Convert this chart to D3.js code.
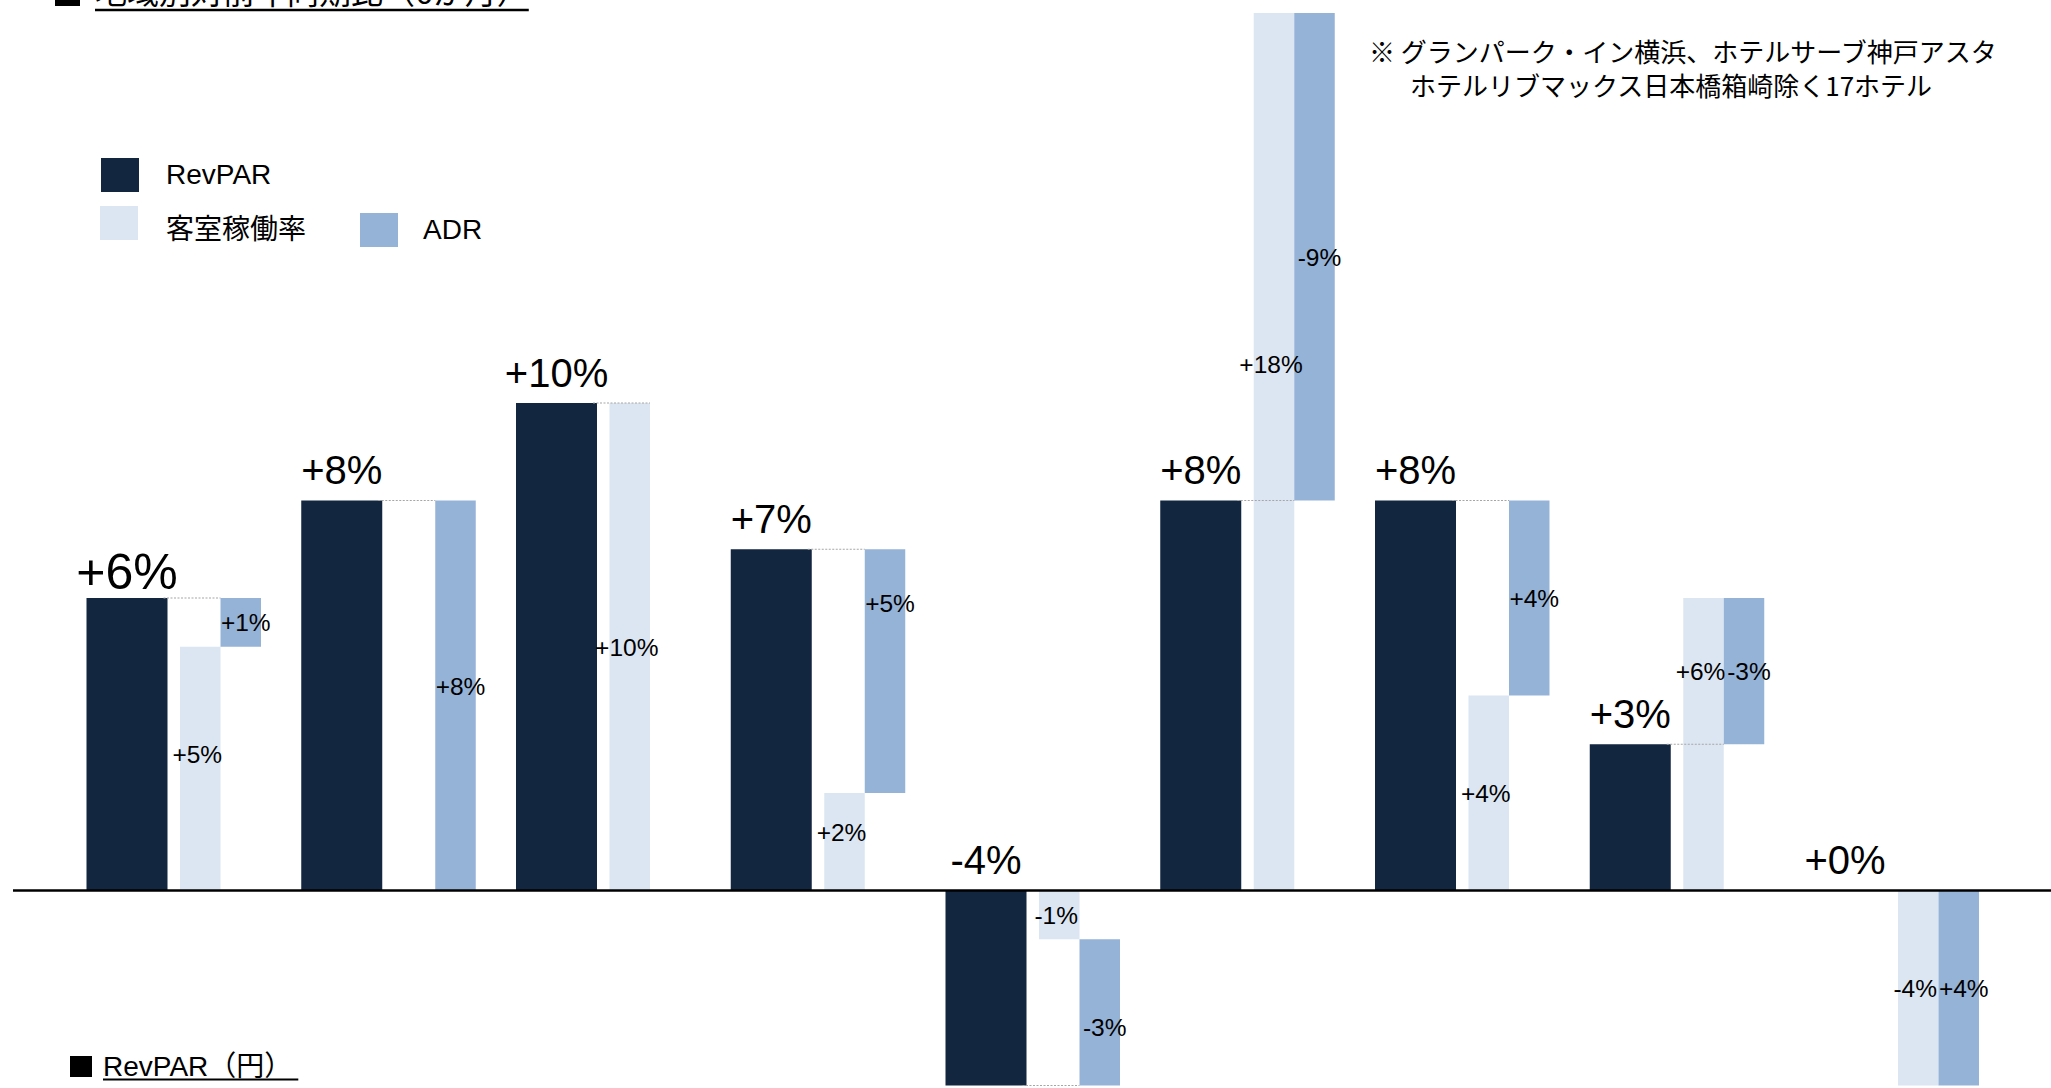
<!DOCTYPE html>
<html><head><meta charset="utf-8">
<script src="https://cdn.jsdelivr.net/npm/d3@7"></script>
<style>html,body{margin:0;padding:0;background:#fff;overflow:hidden}</style>
</head><body><svg id="c" width="2051" height="1088"></svg>
<script>
// ---- data ----
const categories = ["R1","R2","R3","R4","R5","R6","R7","R8","R9"];
const revpar    = [6, 8, 10, 7, -4, 8, 8, 3, 0];
const occupancy = [5, 0, 10, 2, -1, 18, 4, 6, -4];
const adr       = [1, 8, 0, 5, -3, -9, 4, -3, 4];
const seriesNames = ["RevPAR", "客室稼働率", "ADR"];
const titleText = "地域別対前年同期比（6か月）";
const noteLines = ["※ グランパーク・イン横浜、ホテルサーブ神戸アスタ", "ホテルリブマックス日本橋箱崎除く17ホテル"];
const nextTitle = "RevPAR（円）";

// ---- layout / style ----
// label nudges in value units, relative to the middle of each segment (as placed by hand in the original)
const occLabelNudge = [0.3, 0, 0, 0.2, 0, 1.8, 0, 1.5, 0];
const adrLabelNudge = [0, 0.2, 0, 1.4, -0.3, 0, 0, 0, 0];
const C_REV = "#12263f", C_OCC = "#dce6f2", C_ADR = "#95b3d7";
const LATIN = "'Liberation Sans', Arial, 'Noto Sans CJK JP', sans-serif";
const CJK = "'Noto Sans CJK JP', 'Liberation Sans', sans-serif";

const svg = d3.select("#c");
const W = 2051, H = 1088;

const step = 214.75, x0 = 86.5;
const x = d3.scaleBand().domain(categories).range([x0, x0 + step * categories.length]).paddingInner(0).paddingOuter(0);
const y = d3.scaleLinear().domain([0, 18]).range([890.5, 13]);

const revW = 81, subW = 40.5, occOff = 93.5, adrOff = occOff + subW;
const fmt = v => (v < 0 ? "-" : "+") + Math.abs(v) + "%";

const data = categories.map((c, i) => ({c, i, rev: revpar[i], occ: occupancy[i], adr: adr[i]}));

const g = svg.append("g");

// RevPAR bars
g.selectAll("rect.rev").data(data.filter(d => d.rev !== 0)).join("rect")
  .attr("class", "rev")
  .attr("x", d => x(d.c)).attr("width", revW)
  .attr("y", d => Math.min(y(d.rev), y(0)))
  .attr("height", d => Math.abs(y(d.rev) - y(0)))
  .attr("fill", C_REV);

// occupancy bars (0 -> occ)
g.selectAll("rect.occ").data(data.filter(d => d.occ !== 0)).join("rect")
  .attr("class", "occ")
  .attr("x", d => x(d.c) + occOff).attr("width", subW)
  .attr("y", d => Math.min(y(d.occ), y(0)))
  .attr("height", d => Math.abs(y(d.occ) - y(0)))
  .attr("fill", C_OCC);

// ADR bars (occ -> revpar)
g.selectAll("rect.adr").data(data.filter(d => d.adr !== 0)).join("rect")
  .attr("class", "adr")
  .attr("x", d => x(d.c) + adrOff).attr("width", subW)
  .attr("y", d => Math.min(y(d.occ), y(d.rev)))
  .attr("height", d => Math.abs(y(d.occ) - y(d.rev)))
  .attr("fill", C_ADR);

// connector dotted lines
g.selectAll("line.conn").data(data.filter(d => d.rev !== 0)).join("line")
  .attr("x1", d => x(d.c) + revW - 4).attr("x2", d => x(d.c) + adrOff)
  .attr("y1", d => y(d.rev)).attr("y2", d => y(d.rev))
  .attr("stroke", "#a6a6a6").attr("stroke-width", 1.2).attr("stroke-dasharray", "2,1.5");

// zero line
svg.append("line").attr("x1", 13).attr("x2", W).attr("y1", y(0)).attr("y2", y(0))
  .attr("stroke", "#000").attr("stroke-width", 2.5);

// big RevPAR labels
g.selectAll("text.revl").data(data).join("text")
  .attr("x", d => x(d.c) + revW / 2)
  .attr("y", d => {
    const fs = d.i === 0 ? 50 : 40;
    return y(Math.max(d.rev, 0)) - 45 + 0.716 * fs;
  })
  .attr("text-anchor", "middle")
  .attr("font-family", LATIN)
  .attr("font-size", d => d.i === 0 ? 50 : 40)
  .attr("fill", "#000")
  .text(d => fmt(d.rev));

// small labels
const small = [];
data.forEach(d => {
  if (d.occ !== 0) small.push({x: x(d.c) + occOff + subW / 2 - 3, yc: y(d.occ / 2 + occLabelNudge[d.i]), t: fmt(d.occ)});
  if (d.adr !== 0) small.push({x: x(d.c) + adrOff + subW / 2 + 5, yc: y((d.occ + d.rev) / 2 + adrLabelNudge[d.i]), t: fmt(d.adr)});
});
g.selectAll("text.sl").data(small).join("text")
  .attr("x", d => d.x).attr("y", d => d.yc + 9)
  .attr("text-anchor", "middle")
  .attr("font-family", LATIN).attr("font-size", 24.5).attr("fill", "#000")
  .text(d => d.t);

// legend
const leg = svg.append("g");
const legItems = [
  {n: seriesNames[0], c: C_REV, rx: 101, ry: 158, tx: 166, ty: 184},
  {n: seriesNames[1], c: C_OCC, rx: 100, ry: 206, tx: 166, ty: 239},
  {n: seriesNames[2], c: C_ADR, rx: 360, ry: 213, tx: 423, ty: 239}
];
legItems.forEach(it => {
  leg.append("rect").attr("x", it.rx).attr("y", it.ry).attr("width", 38).attr("height", 34).attr("fill", it.c);
  leg.append("text").attr("x", it.tx).attr("y", it.ty).attr("font-family", LATIN).attr("font-size", 28)
    .attr("fill", "#000").text(it.n);
});

// note
noteLines.forEach((t, i) => {
  svg.append("text").attr("x", i === 0 ? 1369 : 1410).attr("y", i === 0 ? 62 : 96)
    .attr("font-family", CJK).attr("font-size", 26).attr("fill", "#000").text(t);
});

// top (cut) title
svg.append("rect").attr("x", 55).attr("y", -19).attr("width", 25).attr("height", 25).attr("fill", "#000");
const tt = svg.append("text").attr("x", 95).attr("y", 4).attr("font-family", CJK).attr("font-size", 32)
  .attr("fill", "#000").text(titleText);
const tw = tt.node().getComputedTextLength();
svg.append("line").attr("x1", 95).attr("x2", 95 + tw).attr("y1", 10).attr("y2", 10).attr("stroke", "#000").attr("stroke-width", 2.5);

// next section title (bottom)
svg.append("rect").attr("x", 70).attr("y", 1056).attr("width", 22).attr("height", 21).attr("fill", "#000");
const nt = svg.append("text").attr("x", 103).attr("y", 1076).attr("font-family", LATIN).attr("font-size", 28)
  .attr("fill", "#000").text(nextTitle);
const nw = nt.node().getComputedTextLength();
svg.append("line").attr("x1", 103).attr("x2", 103 + nw + 6).attr("y1", 1079.5).attr("y2", 1079.5).attr("stroke", "#000").attr("stroke-width", 2);
</script></body></html>
